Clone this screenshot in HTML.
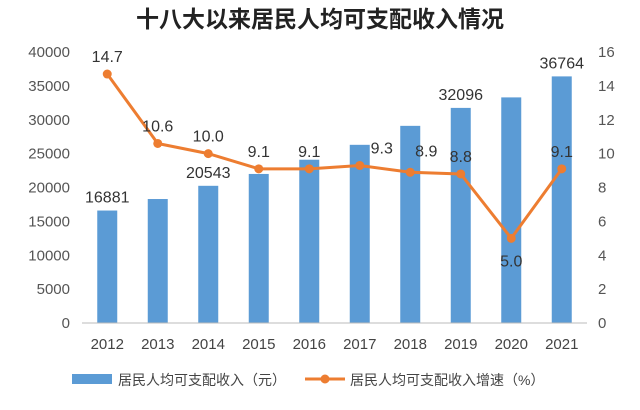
<!DOCTYPE html>
<html><head><meta charset="utf-8"><style>
body{margin:0;background:#fff;}
svg{display:block;font-family:"Liberation Sans","Noto Sans CJK SC",sans-serif;}
</style></head><body>
<svg id="chart" width="640" height="410">
<text x="320" y="27" text-anchor="middle" font-size="23" font-weight="bold" fill="#222" font-family="'Liberation Sans','Noto Sans CJK SC',sans-serif">十八大以来居民人均可支配收入情况</text>
</svg>
<script>
const years=["2012","2013","2014","2015","2016","2017","2018","2019","2020","2021"];
const income=[16600,18300,20250,22000,24100,26300,29100,31750,33300,36400];
const incomeLabels=["16881","","20543","","","","","32096","","36764"];
const growth=[14.7,10.6,10.0,9.1,9.1,9.3,8.9,8.8,5.0,9.1];
const leftTicks=[0,5000,10000,15000,20000,25000,30000,35000,40000];
const rightTicks=[0,2,4,6,8,10,12,14,16];
const svg=document.getElementById('chart');
const NS='http://www.w3.org/2000/svg';
const x0=82,x1=587,yB=323,yT=52;
const band=(x1-x0)/years.length;
const xc=i=>x0+band*(i+0.5);
const yL=v=>yB-v/40000*(yB-yT);
const yR=v=>yB-v/16*(yB-yT);
function mk(t,a,txt){const e=document.createElementNS(NS,t);for(const k in a)e.setAttribute(k,a[k]);if(txt!==undefined)e.textContent=txt;svg.appendChild(e);return e;}
leftTicks.forEach(v=>{const e=mk('text',{x:70,y:yL(v)+5,'text-anchor':'end','font-size':15,fill:'#555'},v);

});
rightTicks.forEach(v=>{const e=mk('text',{x:598,y:yR(v)+5,'font-size':15,fill:'#555'},v);

});
income.forEach((v,i)=>{const r=mk('rect',{x:xc(i)-10,y:yL(v),width:20,height:yB-yL(v),fill:'#5b9bd5'});


if(incomeLabels[i]){const t=mk('text',{x:xc(i),y:yL(v)-8,'text-anchor':'middle','font-size':16,fill:'#333'},incomeLabels[i]);

}});
const ax=mk('line',{x1:x0,x2:x1,y1:yB,y2:yB,stroke:'#bbb','stroke-width':1});


years.forEach((y,i)=>{const t=mk('text',{x:xc(i),y:349,'text-anchor':'middle','font-size':15,fill:'#444'},y);

});
const ln=mk('polyline',{points:growth.map((v,i)=>xc(i)+','+yR(v)).join(' '),fill:'none',stroke:'#ed7d31','stroke-width':3});


growth.forEach((v,i)=>{const c=mk('circle',{cx:xc(i),cy:yR(v),r:4.5,fill:'#ed7d31'});


const dy=(i===8)?28:(i===6?-16:-12);const dx=(i===6)?16:(i===5?22:0);
const t=mk('text',{x:xc(i)+dx,y:yR(v)+dy,'text-anchor':'middle','font-size':16,fill:'#333'},v.toFixed(1));

});
const l1=mk('rect',{x:72,y:374,width:40,height:10,fill:'#5b9bd5'});


const l1t=mk('text',{x:118,y:385,'font-size':14,fill:'#444'},'居民人均可支配收入（元）');


const l2=mk('line',{x1:305,x2:345,y1:379,y2:379,stroke:'#ed7d31','stroke-width':3});


const l2c=mk('circle',{cx:325,cy:379,r:4.5,fill:'#ed7d31'});


const l2t=mk('text',{x:350,y:385,'font-size':14,fill:'#444'},'居民人均可支配收入增速（%）');


</script>
</body></html>
